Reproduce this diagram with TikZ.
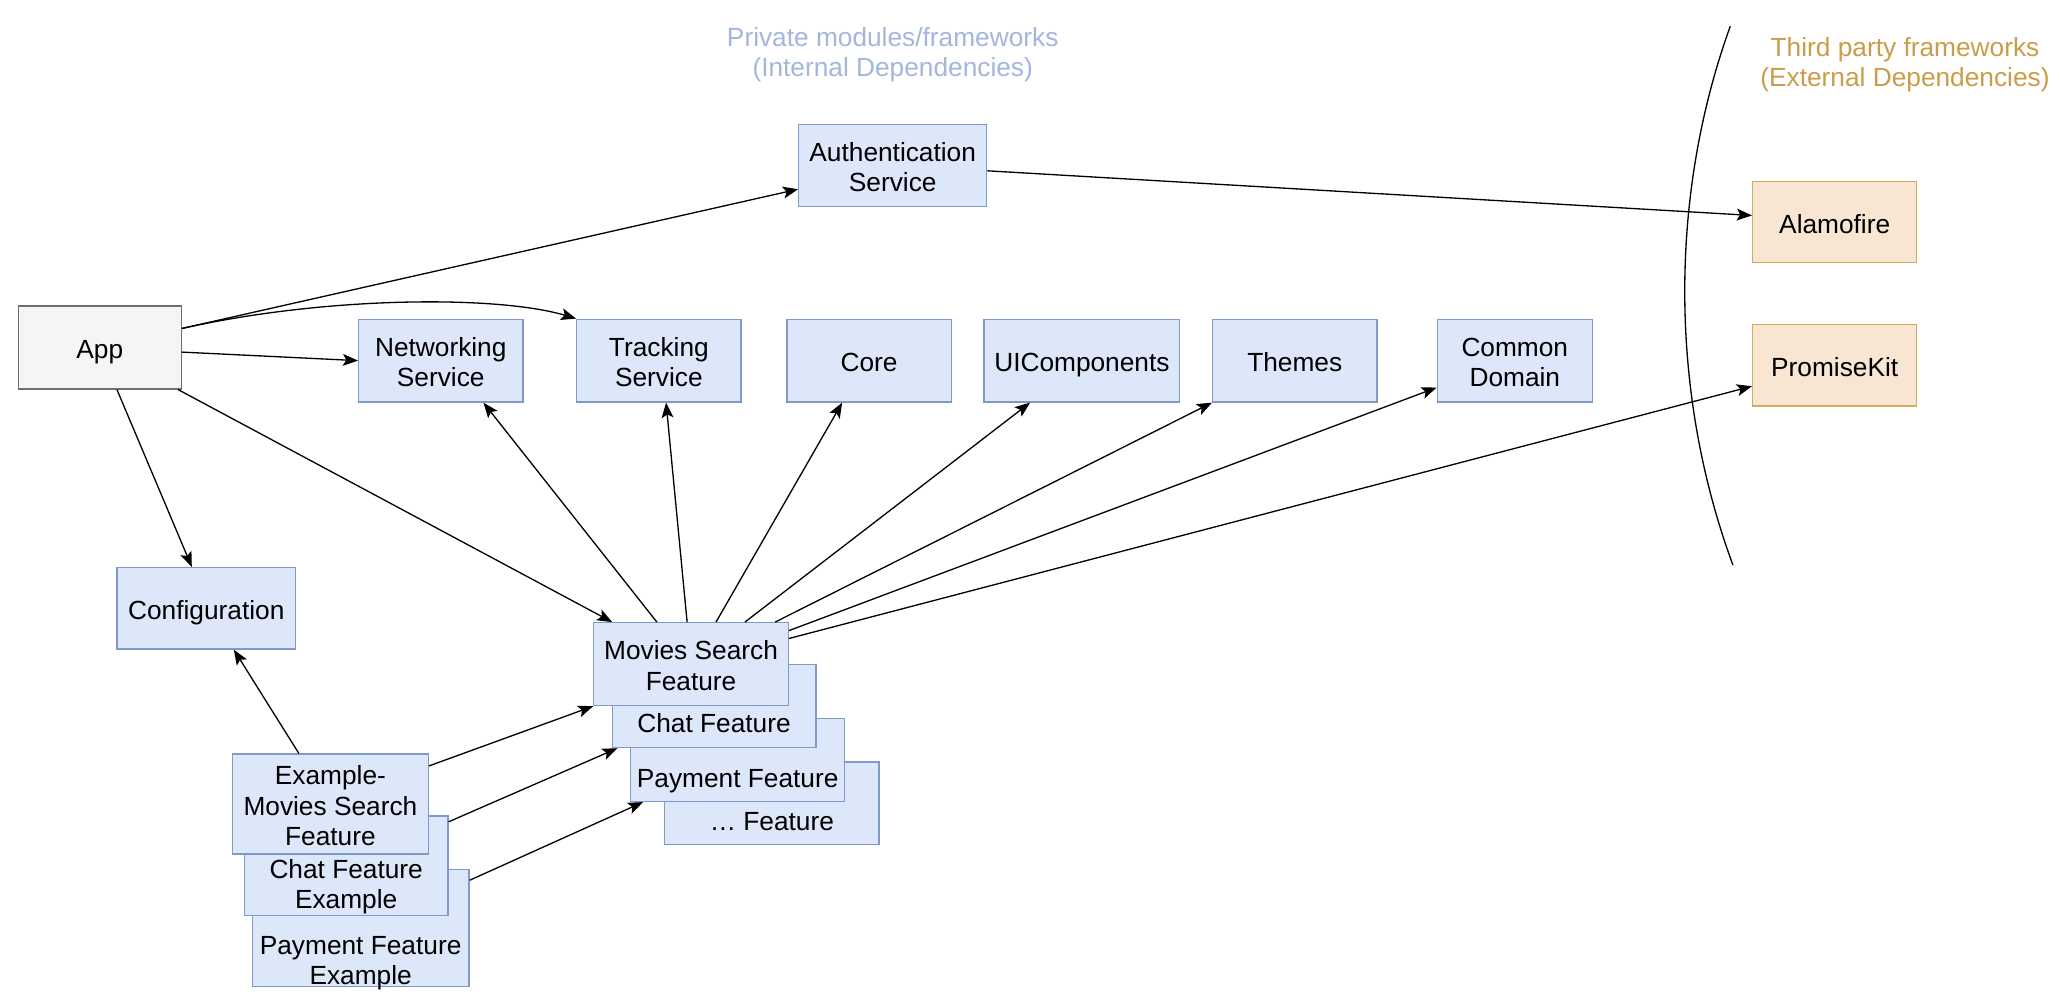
\documentclass[tikz,border=0pt]{standalone}
\usepackage{fontspec}
\setmainfont{Liberation Sans}
\usetikzlibrary{arrows.meta}
\definecolor{bfill}{HTML}{DCE7F9}
\definecolor{bdraw}{HTML}{7F99CB}
\definecolor{ofill}{HTML}{F9E6D2}
\definecolor{odraw}{HTML}{D5AA5E}
\definecolor{gfill}{HTML}{F5F5F5}
\definecolor{gdraw}{HTML}{6F6F6F}
\definecolor{privc}{HTML}{A3B6DC}
\definecolor{thirdc}{HTML}{C99D4A}
\newcommand\tl[1]{\rule{0pt}{21.2pt}#1\rule[-4.5pt]{0pt}{4.5pt}}
\tikzset{
  txt/.style={inner sep=0pt, align=center, font=\fontsize{20}{23}\selectfont},
  bluebox/.style={txt, draw=bdraw, fill=bfill, line width=1pt},
  orangebox/.style={txt, draw=odraw, fill=ofill, line width=1pt},
  graybox/.style={txt, draw=gdraw, fill=gfill, line width=1pt},
  arr/.style={draw, line width=1pt, -{Stealth[length=11.5pt,width=9pt,inset=2.5pt]}},
}
\begin{document}
\begin{tikzpicture}[x=1pt,y=-1pt]
\useasboundingbox[fill=white] (0,0) rectangle (1568,764);

% titles
\node[txt, text=privc] (ptitle) at (679.5,38.5) {\tl{Private modules/frameworks\\(Internal Dependencies)}};
\node[txt, text=thirdc] (ttitle) at (1450,46) {\tl{Third party frameworks\\(External Dependencies)}};

% boundary arc
\draw[line width=1pt] (1317,20) .. controls (1270,150) and (1271,300) .. (1319,430);

% top boxes
\node[bluebox, minimum width=143pt, minimum height=62pt] (auth) at (679.5,126) {\tl{Authentication\\Service}};
\node[graybox, minimum width=124pt, minimum height=63pt] (app) at (76,264.5) {\tl{App}};
\node[bluebox, minimum width=125pt, minimum height=63pt] (net) at (335.5,274.5) {\tl{Networking\\Service}};
\node[bluebox, minimum width=125pt, minimum height=63pt] (track) at (501.5,274.5) {\tl{Tracking\\Service}};
\node[bluebox, minimum width=125pt, minimum height=63pt] (core) at (661.5,274.5) {\tl{Core}};
\node[bluebox, minimum width=149pt, minimum height=63pt] (ui) at (823.5,274.5) {\tl{UIComponents}};
\node[bluebox, minimum width=125pt, minimum height=63pt] (themes) at (985.5,274.5) {\tl{Themes}};
\node[bluebox, minimum width=118pt, minimum height=63pt] (common) at (1153,274.5) {\tl{Common\\Domain}};
\node[orangebox, minimum width=125pt, minimum height=62pt] (alamo) at (1396.5,169) {\tl{Alamofire}};
\node[orangebox, minimum width=125pt, minimum height=62pt] (promise) at (1396.5,278) {\tl{PromiseKit}};
\node[bluebox, minimum width=136pt, minimum height=62pt] (conf) at (157,463) {\tl{Configuration}};

% feature stack (back to front)
\node[bluebox, minimum width=163pt, minimum height=63pt] (etc) at (587.5,611.5) {};
\node[txt] (etct) at ([yshift=-12.5pt]etc.center) {\tl{\dots{} Feature}};
\node[bluebox, minimum width=163pt, minimum height=63pt] (pay) at (561.5,578.5) {};
\node[txt] (payt) at ([yshift=-12.5pt]pay.center) {\tl{Payment Feature}};
\node[bluebox, minimum width=155pt, minimum height=63pt] (chat) at (543.5,537.5) {};
\node[txt] (chatt) at ([yshift=-11.5pt]chat.center) {\tl{Chat Feature}};
\node[bluebox, minimum width=148pt, minimum height=63pt] (movies) at (526,505.5) {\tl{Movies Search\\Feature}};

% example stack (back to front)
\node[bluebox, minimum width=165pt, minimum height=89pt] (expay) at (274.5,706.5) {};
\node[txt] (expayt) at ([yshift=-23pt]expay.center) {\tl{Payment Feature\\Example}};
\node[bluebox, minimum width=155pt, minimum height=76pt] (exchat) at (263.5,659) {};
\node[txt] (exchatt) at ([yshift=-12.5pt]exchat.center) {\tl{Chat Feature\\Example}};
\node[bluebox, minimum width=149pt, minimum height=76pt] (exmovies) at (251.5,612) {\tl{Example-\\Movies Search\\Feature}};

% connectors from App
\draw[arr] ([yshift=14.5pt]app.east) -- ([yshift=-18pt]auth.west);
\draw[arr] ([yshift=14.5pt]app.east) .. controls (250,225) and (380,225) .. (track.north west);
\draw[arr] ([yshift=-3.5pt]app.east) -- (net.west);
\draw[arr] ([xshift=13pt]app.south) -- ([xshift=-11pt]conf.north);
\draw[arr] ([xshift=-3pt]app.south east) -- ([xshift=-60pt]movies.north);

% Authentication -> Alamofire
\draw[arr] ([yshift=-4pt]auth.east) -- ([yshift=5pt]alamo.west);

% Movies Search Feature dependencies
\draw[arr] ([xshift=-26pt]movies.north) -- ([xshift=32.5pt]net.south);
\draw[arr] ([xshift=-3pt]movies.north) -- ([xshift=5.5pt]track.south);
\draw[arr] ([xshift=19pt]movies.north) -- ([xshift=-20.5pt]core.south);
\draw[arr] ([xshift=41pt]movies.north) -- ([xshift=-39.5pt]ui.south);
\draw[arr] ([xshift=64pt]movies.north) -- (themes.south west);
\draw[arr] ([yshift=25.5pt]movies.east) -- ([yshift=-20.5pt]common.west);
\draw[arr] ([yshift=19.5pt]movies.east) -- ([yshift=-16pt]promise.west);

% examples
\draw[arr] ([xshift=-24pt]exmovies.north) -- ([xshift=21pt]conf.south);
\draw[arr] ([yshift=29pt]exmovies.east) -- (movies.south west);
\draw[arr] ([yshift=33.5pt]exchat.east) -- ([xshift=4.5pt]chat.south west);
\draw[arr] ([yshift=36.5pt]expay.east) -- ([xshift=10pt]pay.south west);
\end{tikzpicture}
\end{document}
